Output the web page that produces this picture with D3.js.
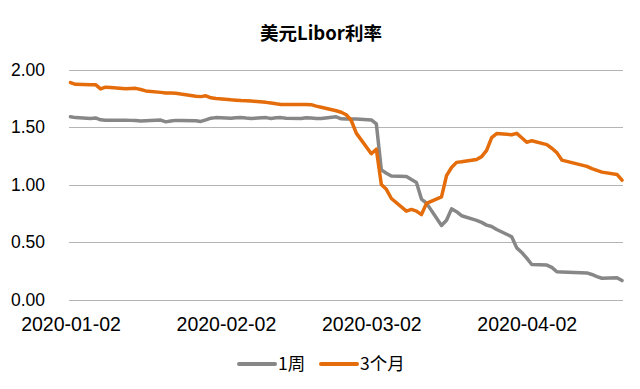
<!DOCTYPE html>
<html>
  <head>
    <meta charset="utf-8">
    <title>美元Libor利率</title>
    <script src="https://cdn.jsdelivr.net/npm/d3@7"></script>
    <style type="text/css">
        body { margin: 0; background: #fff; }
        svg { display: block; font-family: "Noto Sans", "Noto Sans CJK SC", sans-serif; }
        .grid line { stroke: #b4b4b4; stroke-width: 1px; }
        .axis text { fill: #000; }
    </style>
  </head>
  <body>
    <div id="viz"></div>
    <script type="text/javascript">
        // London business days (Good Friday / Easter Monday skipped)
        var dates = [
            "2020-01-02","2020-01-03","2020-01-06","2020-01-07","2020-01-08","2020-01-09","2020-01-10",
            "2020-01-13","2020-01-14","2020-01-15","2020-01-16","2020-01-17","2020-01-20","2020-01-21",
            "2020-01-22","2020-01-23","2020-01-24","2020-01-27","2020-01-28","2020-01-29","2020-01-30","2020-01-31",
            "2020-02-03","2020-02-04","2020-02-05","2020-02-06","2020-02-07","2020-02-10","2020-02-11",
            "2020-02-12","2020-02-13","2020-02-14","2020-02-17","2020-02-18","2020-02-19","2020-02-20",
            "2020-02-21","2020-02-24","2020-02-25","2020-02-26","2020-02-27","2020-02-28",
            "2020-03-02","2020-03-03","2020-03-04","2020-03-05","2020-03-06","2020-03-09","2020-03-10",
            "2020-03-11","2020-03-12","2020-03-13","2020-03-16","2020-03-17","2020-03-18","2020-03-19",
            "2020-03-20","2020-03-23","2020-03-24","2020-03-25","2020-03-26","2020-03-27","2020-03-30","2020-03-31",
            "2020-04-01","2020-04-02","2020-04-03","2020-04-06","2020-04-07","2020-04-08","2020-04-09",
            "2020-04-14","2020-04-15","2020-04-16","2020-04-17","2020-04-20","2020-04-21"
        ];

        // 1周
        var week1 = [
            1.592,1.585,1.578,1.582,1.566,1.562,1.562,1.562,1.561,1.560,1.556,1.558,1.564,1.548,1.555,1.561,1.560,1.558,1.552,1.565,1.580,1.585,
            1.579,1.584,1.586,1.581,1.578,1.585,1.578,1.583,1.585,1.580,1.578,1.584,1.581,1.578,1.578,1.592,1.575,1.573,1.573,1.573,
            1.565,1.530,1.130,1.100,1.076,1.072,1.045,1.020,0.875,0.840,0.645,0.690,0.790,0.765,0.730,0.690,0.672,0.648,0.636,0.610,0.547,0.450,
            0.410,0.360,0.305,0.300,0.280,0.242,0.240,0.232,0.218,0.200,0.185,0.190,0.165
        ];

        // 3个月
        var month3 = [
            1.890,1.875,1.872,1.872,1.835,1.850,1.847,1.836,1.838,1.840,1.830,1.818,1.805,1.800,1.800,1.797,1.790,1.772,1.768,1.775,1.758,1.752,
            1.740,1.737,1.734,1.733,1.730,1.718,1.712,1.705,1.700,1.700,1.700,1.700,1.698,1.685,1.675,1.645,1.632,1.610,1.560,1.450,
            1.270,1.310,1.003,0.960,0.880,0.770,0.785,0.770,0.740,0.838,0.895,1.080,1.150,1.195,1.200,1.220,1.245,1.300,1.410,1.446,1.436,1.448,
            1.410,1.370,1.384,1.350,1.318,1.280,1.215,1.160,1.140,1.125,1.110,1.090,1.040
        ];

        var yTicks = [0, 0.5, 1.0, 1.5, 2.0];
        var xTickLabels = ["2020-01-02", "2020-02-02", "2020-03-02", "2020-04-02"];

        var seriesNames = ["1周", "3个月"];
        var seriesColors = ["#878787", "#e46c0a"];

        var width = 640, height = 389;
        var parse = d3.timeParse("%Y-%m-%d");

        var svg = d3.select("#viz").append("svg")
            .attr("width", width)
            .attr("height", height);

        var x = d3.scaleTime()
            .domain([parse(dates[0]), parse(dates[dates.length - 1])])
            .range([70.5, 622]);
        var y = d3.scaleLinear()
            .domain([0, 2])
            .range([299.5, 70]);

        // title
        svg.append("text")
            .attr("x", 321)
            .attr("y", 39.5)
            .attr("text-anchor", "middle")
            .style("font-family", "'Noto Sans CJK SC', sans-serif")
            .style("font-weight", "bold")
            .style("font-size", "18.5px")
            .text("美元Libor利率");

        // horizontal gridlines
        svg.append("g")
            .attr("class", "grid")
            .selectAll("line")
            .data(yTicks)
            .enter().append("line")
            .attr("x1", 69)
            .attr("x2", 623)
            .attr("y1", function(d) { return Math.round(y(d)) + 0.5; })
            .attr("y2", function(d) { return Math.round(y(d)) + 0.5; });

        // y axis labels
        var yAxis = d3.axisLeft(y)
            .tickValues(yTicks)
            .tickFormat(d3.format(".2f"))
            .tickSize(0)
            .tickPadding(0);
        var yg = svg.append("g")
            .attr("class", "axis")
            .attr("transform", "translate(45,0)")
            .call(yAxis);
        yg.select(".domain").remove();
        yg.selectAll("text").style("font-size", "17.5px");

        // x axis labels
        var xAxis = d3.axisBottom(x)
            .tickValues(xTickLabels.map(parse))
            .tickFormat(d3.timeFormat("%Y-%m-%d"))
            .tickSize(0)
            .tickPadding(0);
        var xg = svg.append("g")
            .attr("class", "axis")
            .attr("transform", "translate(0,317)")
            .call(xAxis);
        xg.select(".domain").remove();
        xg.selectAll("text").style("font-size", "19.5px");

        // lines
        var series = [week1, month3];
        var line = d3.line()
            .x(function(d, i) { return x(parse(dates[i])); })
            .y(function(d) { return y(d); });

        svg.append("g").selectAll("path")
            .data(series)
            .enter().append("path")
            .attr("d", function(d) { return line(d); })
            .attr("fill", "none")
            .attr("stroke", function(d, i) { return seriesColors[i]; })
            .attr("stroke-width", 3.5)
            .attr("stroke-linejoin", "round")
            .attr("stroke-linecap", "round");

        // legend
        var legendX = [239, 321];
        var legend = svg.append("g").selectAll("g")
            .data(seriesNames)
            .enter().append("g")
            .attr("transform", function(d, i) { return "translate(" + legendX[i] + ",364)"; });
        legend.append("line")
            .attr("x1", 0)
            .attr("x2", 36)
            .attr("stroke", function(d, i) { return seriesColors[i]; })
            .attr("stroke-width", 4)
            .attr("stroke-linecap", "round");
        legend.append("text")
            .attr("x", 39)
            .attr("dy", "0.36em")
            .style("font-family", "'Noto Sans CJK SC', sans-serif")
            .style("font-size", "17.5px")
            .text(function(d) { return d; });
    </script>
  </body>
</html>
